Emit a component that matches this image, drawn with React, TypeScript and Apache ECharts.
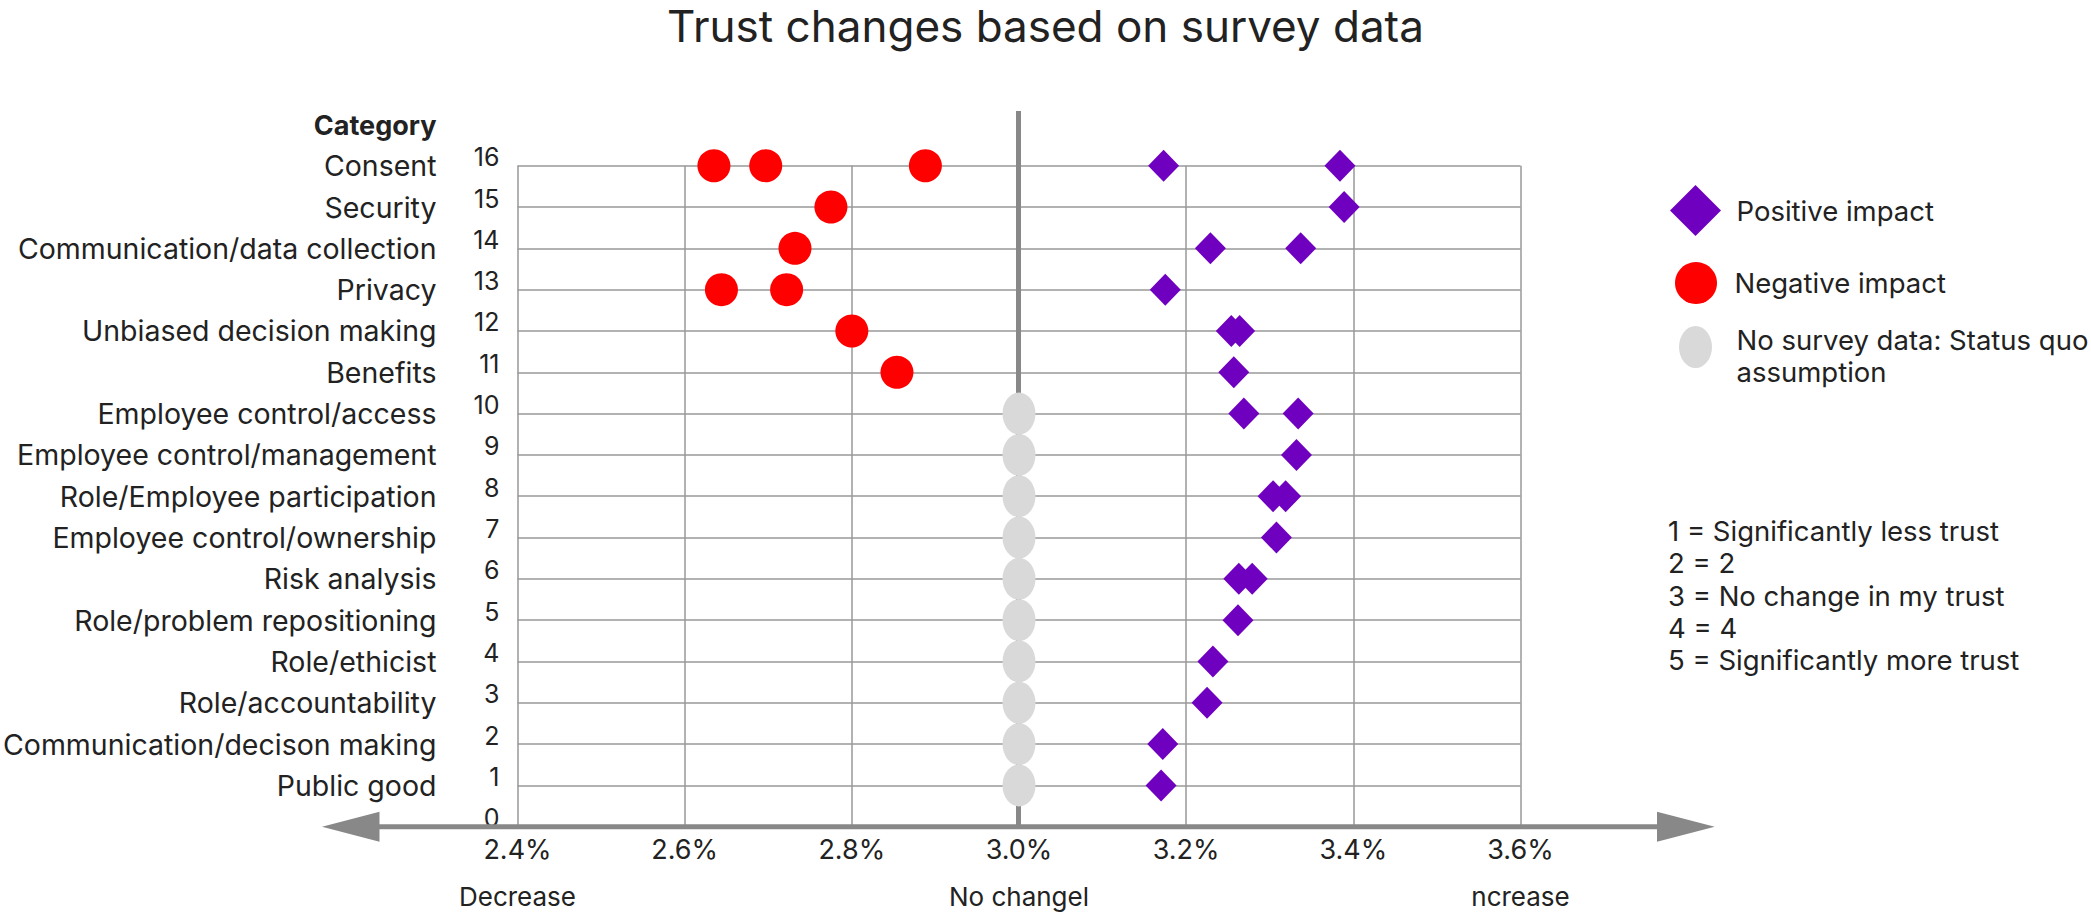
import React, { useEffect, useRef } from "react";
import * as echarts from "echarts";

const FONT = "Inter, 'Noto Sans', sans-serif";
const TEXT = "#222222";

const titleText = "Trust changes based on survey data";
const categories = [
  "",
  "Public good",
  "Communication/decison making",
  "Role/accountability",
  "Role/ethicist",
  "Role/problem repositioning",
  "Risk analysis",
  "Employee control/ownership",
  "Role/Employee participation",
  "Employee control/management",
  "Employee control/access",
  "Benefits",
  "Unbiased decision making",
  "Privacy",
  "Communication/data collection",
  "Security",
  "Consent",
];
const bottomLabels = ["Decrease", "No changel", "ncrease"];

const negativeImpact: [number, number][] = [
  [2.635, 16], [2.697, 16], [2.888, 16],
  [2.775, 15],
  [2.732, 14],
  [2.644, 13], [2.722, 13],
  [2.8, 12],
  [2.854, 11],
];
const positiveImpact: [number, number][] = [
  [3.173, 16], [3.384, 16],
  [3.389, 15],
  [3.229, 14], [3.337, 14],
  [3.175, 13],
  [3.254, 12], [3.264, 12],
  [3.257, 11],
  [3.269, 10], [3.334, 10],
  [3.332, 9],
  [3.304, 8], [3.319, 8],
  [3.308, 7],
  [3.263, 6], [3.279, 6],
  [3.262, 5],
  [3.232, 4],
  [3.225, 3],
  [3.172, 2],
  [3.17, 1],
];
const noSurveyData: [number, number][] = [
  [3.0, 10], [3.0, 9], [3.0, 8], [3.0, 7], [3.0, 6],
  [3.0, 5], [3.0, 4], [3.0, 3], [3.0, 2], [3.0, 1],
];
const scaleNotes = [
  "1 = Significantly less trust",
  "2 = 2",
  "3 = No change in my trust",
  "4 = 4",
  "5 = Significantly more trust",
];
const seriesNames = [
  "Positive impact",
  "Negative impact",
  "No survey data: Status quo assumption",
];
const noDataLegendLines = ["No survey data: Status quo", "assumption"];

const ELLIPSE = "path://M0,21A16.5,21 0 1,1 33,21A16.5,21 0 1,1 0,21Z";
const PURPLE = "#7000C0";
const RED = "#FF0000";
const GREY = "#D9D9D9";
const AXIS_GREY = "#888888";

export default function App() {
  const ref = useRef<HTMLDivElement>(null);
  useEffect(() => {
    document.body.style.margin = "0";
    const chart = echarts.init(ref.current!, null, { renderer: "svg" });
    const legendText = (pad: number[]) => ({
      fontFamily: FONT,
      fontSize: 27.5,
      color: TEXT,
      lineHeight: 32,
      padding: pad,
    });
    chart.setOption({
      animation: false,
      backgroundColor: "#ffffff",
      textStyle: { fontFamily: FONT },
      title: [
        {
          text: titleText,
          left: "center",
          top: 4,
          padding: 0,
          textStyle: { fontFamily: FONT, fontSize: 44, fontWeight: "normal", color: TEXT },
        },
        {
          text: scaleNotes.join("\n"),
          left: 1668,
          top: 515,
          padding: 0,
          textStyle: { fontFamily: FONT, fontSize: 27.5, fontWeight: "normal", color: TEXT, lineHeight: 32.3 },
        },
      ],
      legend: [
        {
          data: [{ name: seriesNames[0], icon: "diamond" }],
          left: 1670,
          top: 185,
          padding: 0,
          itemWidth: 51,
          itemHeight: 51,
          selectedMode: false,
          textStyle: legendText([0, 0, 0, 10.5]),
        },
        {
          data: [{ name: seriesNames[1], icon: "circle" }],
          left: 1675,
          top: 262,
          padding: 0,
          itemWidth: 42,
          itemHeight: 42,
          selectedMode: false,
          textStyle: legendText([0, 0, 0, 12.5]),
        },
        {
          data: [{ name: seriesNames[2], icon: ELLIPSE }],
          left: 1679,
          top: 306,
          padding: 0,
          itemWidth: 33,
          itemHeight: 42,
          selectedMode: false,
          formatter: () =>
            "{s| }\n" + noDataLegendLines.map((l) => "{a|" + l + "}").join("\n"),
          textStyle: {
            ...legendText([0, 0, 0, 19.5]),
            rich: {
              s: { fontSize: 4, lineHeight: 18 },
              a: { fontFamily: FONT, fontSize: 27.5, color: TEXT, lineHeight: 32 },
            },
          },
        },
      ],
      grid: { left: 516.5, right: 570.5, top: 165.7, bottom: 88.3 },
      xAxis: [
        {
          type: "value",
          min: 2.4,
          max: 3.6,
          interval: 0.2,
          axisLine: { show: false },
          axisTick: { show: false },
          splitLine: { show: true, lineStyle: { color: "#999999", width: 1.5 } },
          axisLabel: {
            fontFamily: FONT,
            fontSize: 27,
            color: TEXT,
            margin: 9,
            showMinLabel: true,
            showMaxLabel: true,
            formatter: (v: number) => v.toFixed(1) + "%",
          },
        },
        {
          type: "value",
          position: "bottom",
          offset: 57,
          min: 2.4,
          max: 3.6,
          interval: 0.6,
          axisLine: { show: false },
          axisTick: { show: false },
          splitLine: { show: false },
          axisLabel: {
            fontFamily: FONT,
            fontSize: 26,
            color: TEXT,
            margin: 0,
            showMinLabel: true,
            showMaxLabel: true,
            formatter: (v: number) => bottomLabels[Math.round((v - 2.4) / 0.6)] ?? "",
          },
        },
      ],
      yAxis: [
        {
          type: "value",
          min: 0,
          max: 16,
          interval: 1,
          axisLine: { show: false },
          axisTick: { show: false },
          splitLine: { show: true, lineStyle: { color: "#999999", width: 1.5 } },
          axisLabel: {
            fontFamily: FONT,
            fontSize: 25,
            color: TEXT,
            margin: 18,
            verticalAlign: "bottom",
            lineHeight: 17,
            showMinLabel: true,
            showMaxLabel: true,
          },
        },
        {
          type: "value",
          position: "left",
          offset: 81,
          min: 0,
          max: 16,
          interval: 1,
          name: "Category",
          nameLocation: "end",
          nameGap: 40.7,
          nameTextStyle: {
            fontFamily: FONT,
            fontSize: 27,
            fontWeight: "bold",
            color: TEXT,
            align: "right",
            verticalAlign: "middle",
          },
          axisLine: { show: false },
          axisTick: { show: false },
          splitLine: { show: false },
          axisLabel: {
            fontFamily: FONT,
            fontSize: 28.5,
            color: TEXT,
            margin: 0,
            showMinLabel: true,
            showMaxLabel: true,
            formatter: (v: number) => categories[Math.round(v)] ?? "",
          },
        },
      ],
      graphic: [
        {
          type: "line",
          z: 1,
          shape: { x1: 1018.5, y1: 111, x2: 1018.5, y2: 827 },
          style: { stroke: AXIS_GREY, lineWidth: 5 },
        },
        {
          type: "line",
          z: 1,
          shape: { x1: 375, y1: 826.7, x2: 1660, y2: 826.7 },
          style: { stroke: AXIS_GREY, lineWidth: 5 },
        },
        {
          type: "polygon",
          z: 1,
          shape: { points: [[322, 826.7], [379.5, 811.7], [379.5, 841.7]] },
          style: { fill: AXIS_GREY },
        },
        {
          type: "polygon",
          z: 1,
          shape: { points: [[1714.7, 826.7], [1657, 811.7], [1657, 841.7]] },
          style: { fill: AXIS_GREY },
        },
      ],
      series: [
        {
          name: seriesNames[0],
          type: "scatter",
          symbol: "diamond",
          symbolSize: [31, 32],
          itemStyle: { color: PURPLE, opacity: 1 },
          data: positiveImpact,
          z: 3,
        },
        {
          name: seriesNames[1],
          type: "scatter",
          symbol: "circle",
          symbolSize: 33,
          itemStyle: { color: RED, opacity: 1 },
          data: negativeImpact,
          z: 3,
        },
        {
          name: seriesNames[2],
          type: "scatter",
          symbol: ELLIPSE,
          symbolSize: [33, 42],
          symbolKeepAspect: false,
          itemStyle: { color: GREY, opacity: 1 },
          data: noSurveyData,
          z: 3,
        },
      ],
    });
    return () => chart.dispose();
  }, []);
  return (
    <div
      ref={ref}
      style={{ position: "absolute", left: 0, top: 0, width: 2091, height: 915 }}
    />
  );
}
